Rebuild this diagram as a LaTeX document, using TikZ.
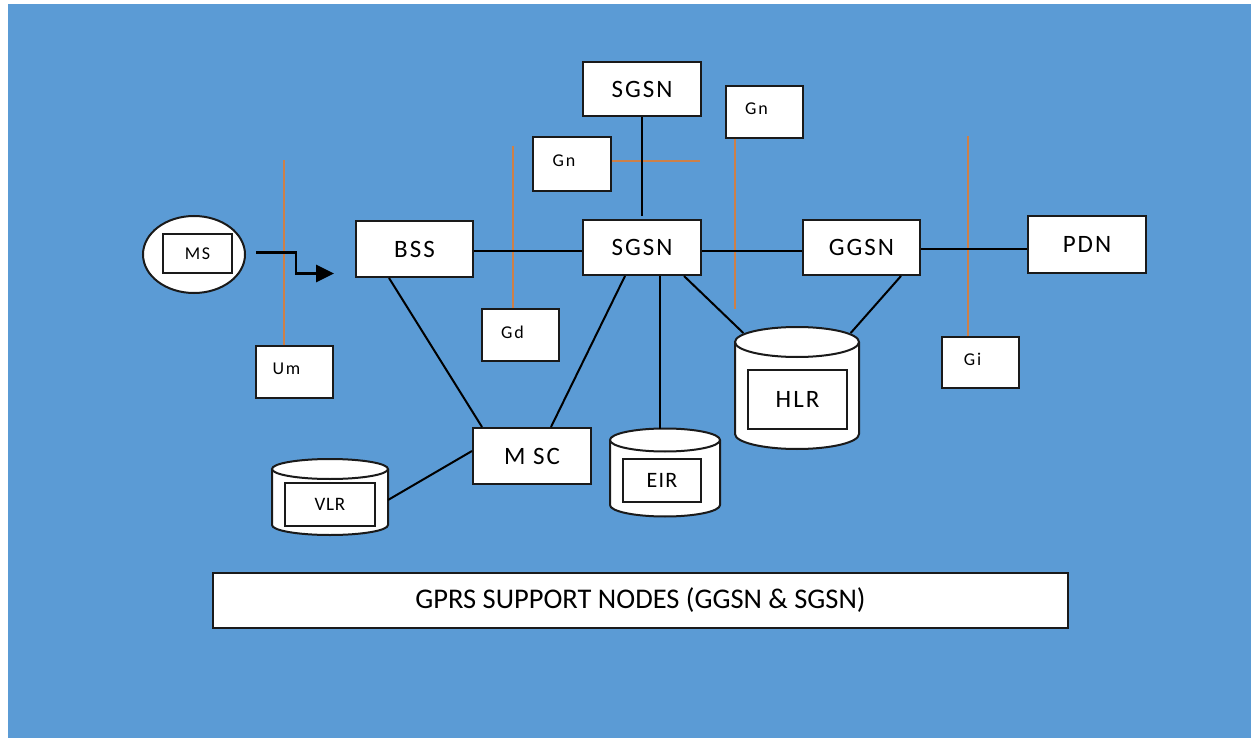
\documentclass[tikz,border=0pt]{standalone}
\usepackage{fontspec}
\setmainfont{Carlito}
\usetikzlibrary{arrows.meta,shapes.geometric}

\definecolor{bg}{HTML}{5B9BD5}
\definecolor{iface}{RGB}{205,128,72}
\definecolor{edge}{HTML}{1A1A1A}

\newcommand\lblbig{\fontsize{25}{30}\selectfont\addfontfeatures{LetterSpace=8}}
\newcommand\lblsmall{\fontsize{18}{22}\selectfont\addfontfeatures{LetterSpace=10}}
\newcommand\lblfoot{\fontsize{28.5}{34}\selectfont}

% drum-shaped store: name, left x, right x, top-ellipse y, bottom-ellipse y, y radius
\newcommand\drum[6]{%
  \path[fill=white] (#2,#4) -- (#2,#5)
    arc[start angle=180, end angle=0, x radius={(#3-#2)/2}, y radius=#6]
    -- (#3,#4)
    arc[start angle=0, end angle=-180, x radius={(#3-#2)/2}, y radius=#6] -- cycle;
  \draw[outline] (#2,#4) -- (#2,#5)
    arc[start angle=180, end angle=0, x radius={(#3-#2)/2}, y radius=#6] -- (#3,#4);
  \draw[outline, fill=white] ({(#2+#3)/2},#4) ellipse[x radius={(#3-#2)/2}, y radius=#6];
  \coordinate (#1-top) at ({(#2+#3)/2},{#4-#6});
  \coordinate (#1-nw) at ({(#2+#3)/2-0.866*(#3-#2)/2},{#4-0.6*#6});
  \coordinate (#1-ne) at ({(#2+#3)/2+0.866*(#3-#2)/2},{#4-0.6*#6});
  \coordinate (#1-east) at (#3,{(#4+#5)/2+3});
}

\tikzset{
  outline/.style={draw=edge, line width=2pt},
  box/.style={outline, fill=white, inner sep=0pt, font=\lblbig, text=black},
  tag/.style={outline, fill=white, inner sep=0pt},
  tagtext/.style={font=\lblsmall, text=black, inner sep=0pt, xshift=-8pt, yshift=3pt},
  link/.style={draw=black, line width=2pt},
  ifline/.style={draw=iface, line width=2pt},
  flow/.style={draw=black, line width=2.8pt, -{Triangle[length=18pt 0 0, width=17pt 0 0]}},
}

\begin{document}
\begin{tikzpicture}[x=1pt, y=-1pt]
\useasboundingbox (0,0) rectangle (1251,738);
\fill[bg] (8,4) rectangle (1251,738);

% interface markers (drawn first, boxes sit on top)
\node[tag, minimum width=77pt, minimum height=52pt, label={[tagtext]center:Um}] (um) at (294.5,372) {};
\node[tag, minimum width=77pt, minimum height=52pt, label={[tagtext]center:Gd}] (gd) at (520.5,335) {};
\node[tag, minimum width=78pt, minimum height=54pt, label={[tagtext]center:Gn}] (gnL) at (572,164) {};
\node[tag, minimum width=77pt, minimum height=52pt, label={[tagtext]center:Gn}] (gnR) at (764.5,112) {};
\node[tag, minimum width=77pt, minimum height=51pt, label={[tagtext]center:Gi}] (gi) at (980.5,362.5) {};

% network elements
\node[box, minimum width=117pt, minimum height=56pt] (bss) at (414.5,249) {BSS};
\node[box, minimum width=118pt, minimum height=54pt] (sgsnT) at (642,89) {SGSN};
\node[box, minimum width=118pt, minimum height=55pt] (sgsn) at (642,247.5) {SGSN};
\node[box, minimum width=117pt, minimum height=55pt] (ggsn) at (861.5,247.5) {GGSN};
\node[box, minimum width=118pt, minimum height=57pt] (pdn) at (1087,244.5) {PDN};
\node[box, minimum width=118pt, minimum height=56pt] (msc) at (532,456) {M SC};

% mobile station
\node[outline, fill=white, ellipse, minimum width=102pt, minimum height=77pt] (ms) at (194,254.5) {};
\node[box, minimum width=69pt, minimum height=39pt, font=\lblsmall] (msin) at (197.5,253.5) {MS};

% interface lines
\draw[ifline] ([xshift=-10.5pt]um.north) -- ++(0,-185);
\draw[ifline] ([xshift=-7.5pt]gd.north) -- ++(0,-162);
\draw[ifline] ([yshift=3pt]gnL.east) -- ++(88,0);
\draw[ifline] ([xshift=-29.5pt]gnR.south) -- ++(0,170);
\draw[ifline] ([xshift=-12.5pt]gi.north) -- ++(0,-200);

% links
\draw[link] ([yshift=-2pt]bss.east) -- ([yshift=-2pt]bss.east -| sgsn.west);
\draw[link] ([yshift=-3.5pt]sgsn.east) -- ([yshift=-3.5pt]sgsn.east -| ggsn.west);
\draw[link] ([yshift=-1.5pt]ggsn.east) -- ([yshift=-1.5pt]ggsn.east -| pdn.west);
\draw[link] (sgsnT.south) -- ([yshift=3pt]sgsn.north);
\draw[link] ([xshift=-25.5pt]bss.south) -- ([xshift=10pt]msc.north west);
\draw[link] ([xshift=-77pt]sgsn.south east) -- ([xshift=-41pt]msc.north east);

% databases
\drum{hlr}{735}{859}{342}{434}{15}
\node[box, minimum width=99pt, minimum height=59pt] (hlrin) at (797.5,399.5) {HLR};
\drum{eir}{610}{720}{440}{505}{11.5}
\node[box, minimum width=78pt, minimum height=43pt, font=\fontsize{22}{26}\selectfont\addfontfeatures{LetterSpace=6}] (eirin) at (662,480.5) {EIR};
\drum{vlr}{272}{388}{469}{525}{10}
\node[box, minimum width=90pt, minimum height=43pt, font=\fontsize{19}{23}\selectfont\addfontfeatures{LetterSpace=4}] (vlrin) at (330,504.5) {VLR};

\draw[link] ([xshift=18pt]sgsn.south) -- ([xshift=-5pt]eir-top);
\draw[link] ([xshift=-18pt]sgsn.south east) -- (hlr-nw);
\draw[link] ([xshift=-20pt]ggsn.south east) -- (hlr-ne);
\draw[link] ([yshift=5pt]msc.west) -- (vlr-east);

% radio access arrow
\draw[flow] ([xshift=10pt, yshift=2pt]ms.east) -- ++(40,0) -- ++(0,21) -- ++(38,0);

% caption box
\node[box, minimum width=855pt, minimum height=55pt, font=\lblfoot] (foot) at (640.5,600.5) {GPRS SUPPORT NODES (GGSN \& SGSN)};
\end{tikzpicture}
\end{document}
